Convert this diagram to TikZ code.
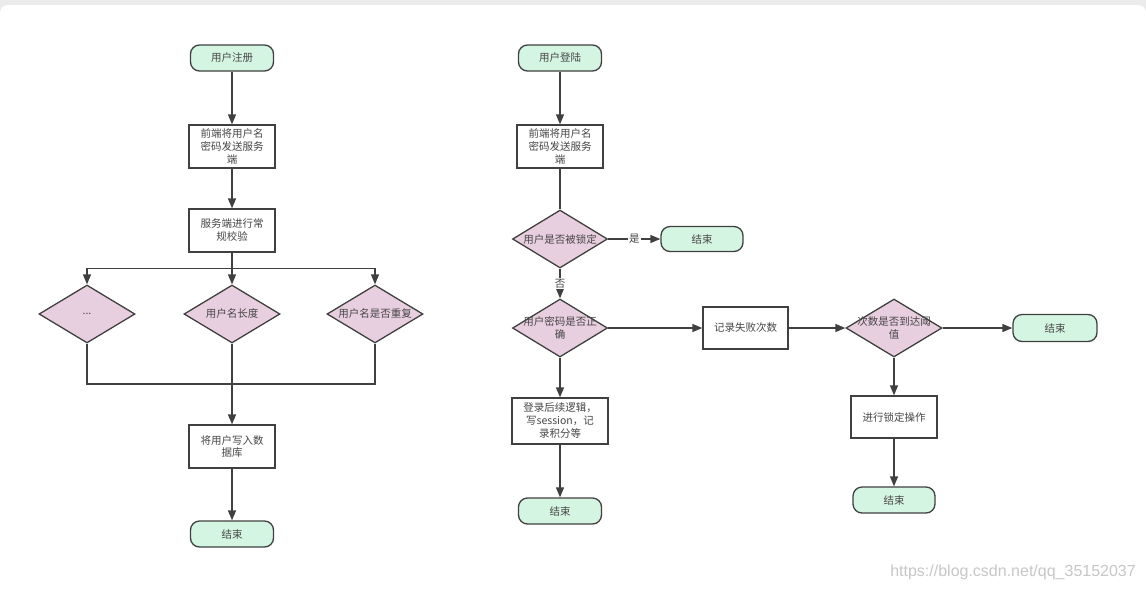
\documentclass[tikz,border=0pt]{standalone}
\usepackage{fontspec}
\setmainfont{Noto Sans CJK SC}
\newfontfamily\wmfont{Liberation Sans}
\usetikzlibrary{shapes.geometric,arrows.meta,positioning}
\definecolor{termfill}{RGB}{213,245,227}
\definecolor{decfill}{RGB}{232,207,224}
\definecolor{linegray}{RGB}{64,64,64}
\definecolor{textgray}{RGB}{70,70,70}
\tikzset{
  base/.style={draw=linegray, line width=1.3pt, text=textgray, align=center, inner sep=0pt,
    font=\fontsize{10.5}{13}\selectfont},
  term/.style={base, rounded corners=9pt, fill=termfill, minimum width=83pt, minimum height=26pt},
  proc/.style={base, fill=white, minimum width=86pt, minimum height=43pt},
  dec/.style={base, diamond, fill=decfill, minimum width=96pt, minimum height=58pt},
  lbl/.style={text=textgray, align=center, inner sep=0pt, font=\fontsize{10.5}{13}\selectfont},
  arr/.style={draw=linegray, line width=1.3pt, -{Triangle[length=10pt,width=8pt]}},
  link/.style={draw=linegray, line width=1.3pt},
  tag/.style={fill=white, inner sep=1pt, text=textgray, font=\fontsize{10.5}{13}\selectfont},
}
\begin{document}
\begin{tikzpicture}[x=1pt,y=-1pt]
    \useasboundingbox (0,0) rectangle (1146,590);
    % frame
    \fill[black!8] (0,0) rectangle (1146,14);
    \fill[white, rounded corners=8pt] (0,5) rectangle (1146,610);

    % registration
    \node[term] (reg) at (232,58) {用户注册};
    \node[proc] (send) at (232,146.5) {前端将用户名\\密码发送服务\\端};
    \node[proc] (check) at (232,230.5) {服务端进行常\\规校验};
    \node[dec, label={[lbl]center:...}] (dmore) at (87,314) {};
    \node[dec, label={[lbl]center:用户名长度}] (dlen) at (232,314) {};
    \node[dec, label={[lbl]center:用户名是否重复}] (ddup) at (375,314) {};
    \coordinate (merge) at (232,384);
    \node[proc] (save) at (232,446.5) {将用户写入数\\据库};
    \node[term] (regend) at (232,534) {结束};

    \draw[arr] (reg) -- (send);
    \draw[arr] (send) -- (check);
    \draw[arr] (check.south) -- (dlen.north);
    \draw[arr] (check.south) -- ++(0,16) -| (dmore.north);
    \draw[arr] (check.south) -- ++(0,16) -| (ddup.north);
    \draw[link] (dmore.south) |- (merge);
    \draw[link] (ddup.south) |- (merge);
    \draw[arr] (dlen.south) -- (save.north);
    \draw[arr] (save) -- (regend);

    % login
    \node[term] (login) at (560,58) {用户登陆};
    \node[proc] (lsend) at (560,146.5) {前端将用户名\\密码发送服务\\端};
    \node[dec, minimum width=95pt, label={[lbl]center:用户是否被锁定}] (locked) at (560,239) {};
    \node[term, minimum width=82pt, minimum height=25pt] (lockend) at (702,239) {结束};
    \node[dec, minimum width=95pt, label={[lbl]center:用户密码是否正\\确}] (pwd) at (560,328) {};
    \node[proc, minimum width=85pt, minimum height=42pt] (fail) at (745.5,328) {记录失败次数};
    \node[proc, minimum width=96pt, minimum height=46pt] (ok) at (560,421) {登录后续逻辑，\\写session，记\\录积分等};
    \node[term] (okend) at (560,511) {结束};
    \node[dec, label={[lbl]center:次数是否到达阈\\值}] (limit) at (894,328) {};
    \node[term, minimum width=84pt, minimum height=27pt] (limend) at (1055,328) {结束};
    \node[proc, minimum height=42pt] (dolock) at (894,417) {进行锁定操作};
    \node[term, minimum width=82pt] (lockopend) at (894,500) {结束};

    \draw[arr] (login) -- (lsend);
    \draw[link] (lsend) -- (locked.north);
    \draw[arr] (locked.east) -- node[tag] {是} (lockend.west);
    \draw[arr] (locked.south) -- node[tag] {否} (pwd.north);
    \draw[arr] (pwd.east) -- (fail.west);
    \draw[arr] (pwd.south) -- (ok.north);
    \draw[arr] (ok) -- (okend);
    \draw[arr] (fail.east) -- (limit.west);
    \draw[arr] (limit.east) -- (limend.west);
    \draw[arr] (limit.south) -- (dolock.north);
    \draw[arr] (dolock) -- (lockopend);

    % watermark
    \node[text=black!22, font=\wmfont\fontsize{16}{16}\selectfont, anchor=east, inner sep=0pt] (mark) at (1136,572) {https://blog.csdn.net/qq\_35152037};
\end{tikzpicture}
\end{document}
